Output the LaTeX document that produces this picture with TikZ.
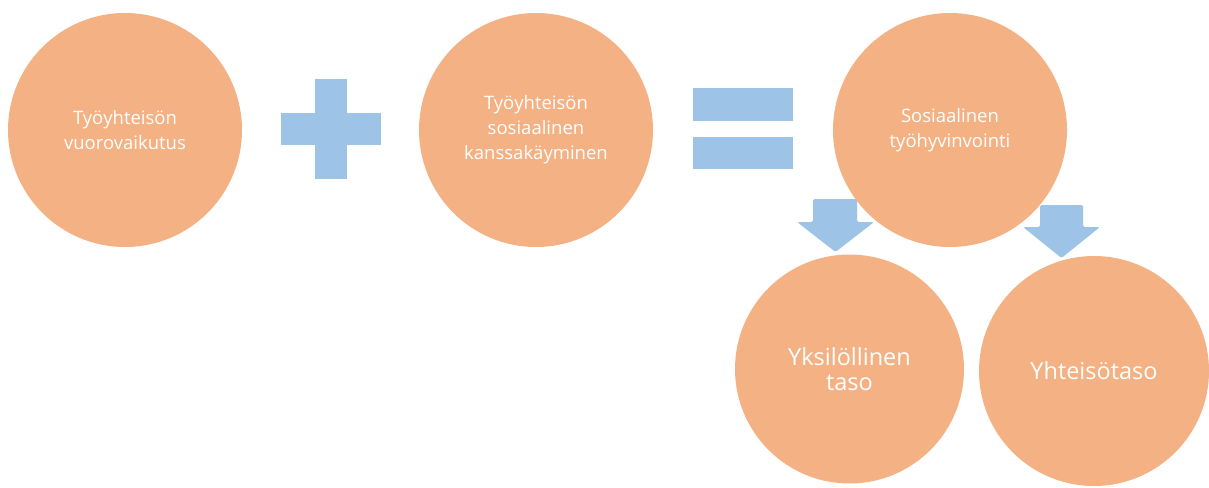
\documentclass[tikz,border=0pt]{standalone}
\usepackage{fontspec}
\setmainfont{Open Sans}
\definecolor{peach}{HTML}{F4B183}
\definecolor{skyblue}{HTML}{9DC3E6}
\tikzset{
  bubble/.style={circle, fill=peach, draw=none, text=white, align=center, inner sep=0pt},
  topbubble/.style={bubble, minimum size=234pt, font=\fontsize{18.5}{25}\selectfont},
  lowbubble/.style={bubble, font=\fontsize{23.5}{25}\selectfont},
  symb/.style={fill=skyblue, draw=none},
  downarrow/.style={fill=skyblue, draw=none, rounded corners=1.5pt}
}
\begin{document}
\begin{tikzpicture}[x=1pt,y=-1pt]
\useasboundingbox (0,0) rectangle (1209,487);
% plus and equals
\fill[symb] (315,79) rectangle (347,179);
\fill[symb] (281,113) rectangle (381,145);
\fill[symb] (693,88) rectangle (793,121);
\fill[symb] (693,137) rectangle (793,169);
% block arrows
\fill[downarrow] (813,199) -- (857,199) -- (857,222) -- (874,222) -- (835.5,252) -- (797,222) -- (813,222) -- cycle;
\fill[downarrow] (1040,205) -- (1083,205) -- (1083,227) -- (1100,227) -- (1061.5,258) -- (1023,227) -- (1040,227) -- cycle;
% circles
\node[topbubble] (a) at (125,130) {Työyhteisön\\vuorovaikutus};
\node[topbubble] (b) at (536,130) {Työyhteisön\\sosiaalinen\\kanssakäyminen};
\node[topbubble] (c) at (950,130) {Sosiaalinen\\työhyvinvointi};
\node[lowbubble, minimum size=229pt] (d) at (849.5,369) {Yksilöllinen\\taso};
\node[lowbubble, minimum size=230pt] (e) at (1094,371) {Yhteisötaso};
\end{tikzpicture}
\end{document}
